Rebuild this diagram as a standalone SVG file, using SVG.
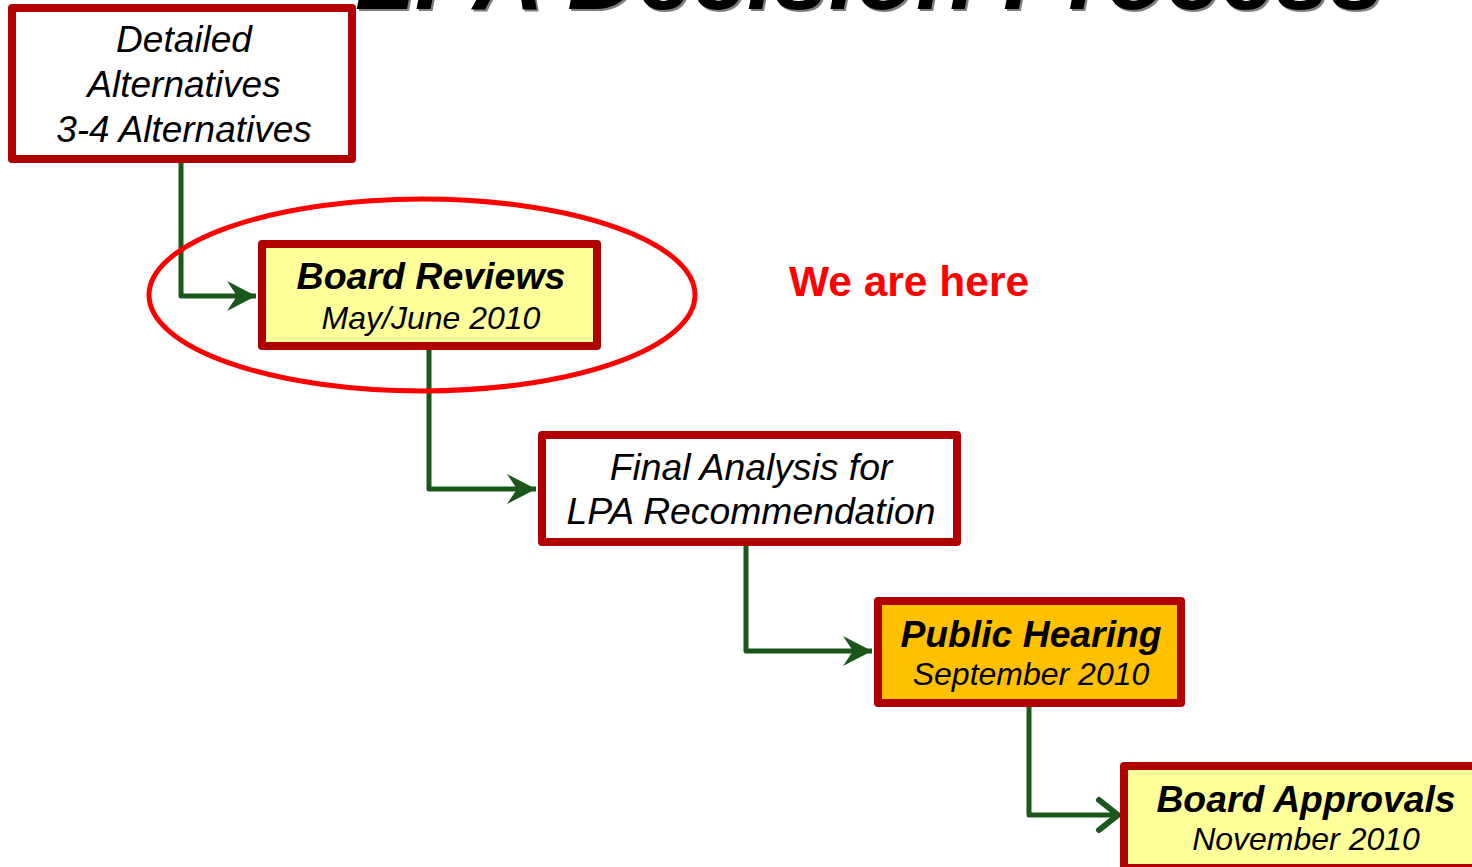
<svg xmlns="http://www.w3.org/2000/svg" width="1472" height="867" viewBox="0 0 1472 867">
<defs>
<style>
.box{stroke:#B00000;stroke-width:8;stroke-linejoin:round}
.t{font-family:"Liberation Sans",Arial,sans-serif;font-style:italic;fill:#000;text-anchor:middle}
.b{font-weight:bold}
.conn{fill:none;stroke:#1B561B;stroke-width:5;stroke-linejoin:round}
</style>
<marker id="stealth" markerUnits="userSpaceOnUse" markerWidth="30" markerHeight="32" viewBox="0 0 30 32" refX="29" refY="16" orient="auto">
<path d="M0,1 L29,16 L0,31 L10,16 Z" fill="#1B561B"/>
</marker>
</defs>
<rect width="1472" height="867" fill="#fff"/>
<g id="title">
<text x="357" y="11" font-family="Liberation Sans,Arial,sans-serif" font-size="98" font-weight="bold" font-style="italic" fill="#7F7F7F">LPA Decision Process</text>
<text x="355" y="9" font-family="Liberation Sans,Arial,sans-serif" font-size="98" font-weight="bold" font-style="italic" fill="#000">LPA Decision Process</text>
</g>
<g id="connectors">
<path class="conn" d="M181,163 V296 H256" marker-end="url(#stealth)"/>
<path class="conn" d="M429,350 V489 H536" marker-end="url(#stealth)"/>
<path class="conn" d="M746,546 V651 H872" marker-end="url(#stealth)"/>
<path class="conn" d="M1029,707 V815 H1118"/>
<polyline points="1099,800 1118,815 1099,830" fill="none" stroke="#1B561B" stroke-width="6" stroke-linecap="round" stroke-linejoin="round"/>
</g>
<g id="node-detailed">
<rect class="box" x="12" y="8" width="340" height="151" fill="#fff"/>
<text class="t" x="184" y="52" font-size="37">Detailed</text>
<text class="t" x="184" y="97" font-size="37">Alternatives</text>
<text class="t" x="184" y="142" font-size="37">3-4 Alternatives</text>
</g>
<g id="node-board-reviews">
<rect class="box" x="262" y="244" width="335" height="102" fill="#FFFF99"/>
<text class="t b" x="431" y="289" font-size="37.5">Board Reviews</text>
<text class="t" x="431" y="329" font-size="32">May/June 2010</text>
</g>
<g id="highlight">
<ellipse cx="422" cy="295" rx="273" ry="96" fill="none" stroke="#FF0000" stroke-width="5"/>
<text x="909" y="296" font-family="Liberation Sans,Arial,sans-serif" font-size="42.5" font-weight="bold" fill="#FF0000" text-anchor="middle">We are here</text>
</g>
<g id="node-final-analysis">
<rect class="box" x="542" y="435" width="415" height="107" fill="#fff"/>
<text class="t" x="751" y="480" font-size="37.3">Final Analysis for</text>
<text class="t" x="751" y="524" font-size="37.3">LPA Recommendation</text>
</g>
<g id="node-public-hearing">
<rect class="box" x="878" y="601" width="303" height="102" fill="#FFC000"/>
<text class="t b" x="1031" y="647" font-size="37.3">Public Hearing</text>
<text class="t" x="1031" y="685" font-size="32">September 2010</text>
</g>
<g id="node-board-approvals">
<rect class="box" x="1124" y="766" width="370" height="102" fill="#FFFF99"/>
<text class="t b" x="1306" y="812" font-size="37.3">Board Approvals</text>
<text class="t" x="1306" y="850" font-size="32">November 2010</text>
</g>
</svg>
